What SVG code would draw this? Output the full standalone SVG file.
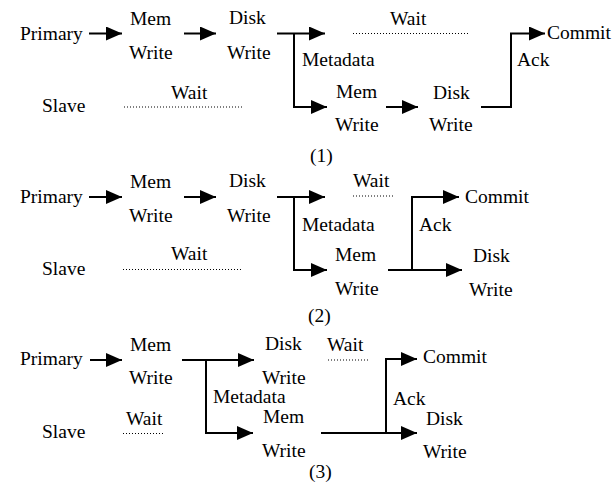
<svg xmlns="http://www.w3.org/2000/svg" width="615" height="482" viewBox="0 0 615 482" font-family="Liberation Serif, Times New Roman, DejaVu Serif, serif">
<style>
text{font-family:'Liberation Serif','Times New Roman','DejaVu Serif',serif;font-size:19.5px;fill:#000}
.c{fill:none;stroke:#000;stroke-width:2}
.a{marker-end:url(#ah)}
.d{fill:none;stroke:#000;stroke-width:1.2;stroke-dasharray:1 2}
</style>
<defs>
<marker id="ah" markerUnits="userSpaceOnUse" markerWidth="17" markerHeight="15" refX="16" refY="7" orient="auto">
<path d="M0,0 L16,7 L0,14 Z" fill="#000"/>
</marker>
</defs>
<rect width="615" height="482" fill="#fff"/>
<g id="connectors">
<path class="c a" d="M89,33.5 H122"/>
<path class="c a" d="M184,33.5 H216"/>
<path class="c a" d="M277,33.5 H325"/>
<path class="c a" d="M294,33.5 V107 H327"/>
<path class="c a" d="M386,107 H418"/>
<path class="c a" d="M481,107 H511 V33.5 H545"/>
<path class="d" d="M353,33.5 H469"/>
<path class="d" d="M124,107 H242"/>
<path class="c a" d="M89,197 H122"/>
<path class="c a" d="M184,197 H216"/>
<path class="c a" d="M277,197 H325"/>
<path class="c a" d="M294,197 V270 H327"/>
<path class="c a" d="M388,270 H462"/>
<path class="c a" d="M412,270 V197 H459"/>
<path class="d" d="M353,196 H393"/>
<path class="d" d="M123,269.5 H241"/>
<path class="c a" d="M90,360 H122"/>
<path class="c a" d="M182,360 H254"/>
<path class="c a" d="M206,360 V433 H253"/>
<path class="c a" d="M321,433 H417"/>
<path class="c a" d="M386,433 V359 H417"/>
<path class="d" d="M123,433.5 H165"/>
<path class="d" d="M328,360 H370"/>
</g>
<g id="p1">
<g id="p1-primary"><text x="20" y="40">Primary</text></g>
<g id="p1-memwrite"><text x="130" y="25">Mem</text><text x="129" y="59">Write</text></g>
<g id="p1-diskwrite"><text x="229" y="24">Disk</text><text x="227" y="59">Write</text></g>
<g id="p1-metadata"><text x="302" y="66">Metadata</text></g>
<g id="p1-wait-primary"><text x="390" y="25">Wait</text></g>
<g id="p1-slave-memwrite"><text x="336" y="98">Mem</text><text x="335" y="131">Write</text></g>
<g id="p1-slave-diskwrite"><text x="433" y="99">Disk</text><text x="429" y="131">Write</text></g>
<g id="p1-commit"><text x="547" y="39">Commit</text></g>
<g id="p1-ack"><text x="517" y="66">Ack</text></g>
<g id="p1-slave"><text x="42" y="112">Slave</text></g>
<g id="p1-wait-slave"><text x="171" y="99">Wait</text></g>
<g id="p1-label"><text x="310" y="162">(1)</text></g>
</g>
<g id="p2">
<g id="p2-primary"><text x="20" y="203">Primary</text></g>
<g id="p2-memwrite"><text x="130" y="188">Mem</text><text x="129" y="222">Write</text></g>
<g id="p2-diskwrite"><text x="229" y="187">Disk</text><text x="227" y="222">Write</text></g>
<g id="p2-metadata"><text x="302" y="231">Metadata</text></g>
<g id="p2-wait-primary"><text x="353" y="187">Wait</text></g>
<g id="p2-slave-memwrite"><text x="335" y="261">Mem</text><text x="335" y="295">Write</text></g>
<g id="p2-commit"><text x="465" y="203">Commit</text></g>
<g id="p2-ack"><text x="419" y="231">Ack</text></g>
<g id="p2-slave-diskwrite"><text x="473" y="262">Disk</text><text x="469" y="296">Write</text></g>
<g id="p2-slave"><text x="42" y="275">Slave</text></g>
<g id="p2-wait-slave"><text x="171" y="260">Wait</text></g>
<g id="p2-label"><text x="308" y="322">(2)</text></g>
</g>
<g id="p3">
<g id="p3-primary"><text x="20" y="365">Primary</text></g>
<g id="p3-memwrite"><text x="130" y="351">Mem</text><text x="129" y="384">Write</text></g>
<g id="p3-diskwrite"><text x="265" y="350">Disk</text><text x="262" y="384">Write</text></g>
<g id="p3-metadata"><text x="213" y="403">Metadata</text></g>
<g id="p3-slave-memwrite"><text x="263" y="423">Mem</text><text x="262" y="457">Write</text></g>
<g id="p3-wait-slave"><text x="126" y="425">Wait</text></g>
<g id="p3-slave"><text x="42" y="438">Slave</text></g>
<g id="p3-wait-primary"><text x="327" y="351">Wait</text></g>
<g id="p3-commit"><text x="423" y="363">Commit</text></g>
<g id="p3-ack"><text x="393" y="405">Ack</text></g>
<g id="p3-slave-diskwrite"><text x="426" y="425">Disk</text><text x="423" y="458">Write</text></g>
<g id="p3-label"><text x="309" y="478">(3)</text></g>
</g>
</svg>
